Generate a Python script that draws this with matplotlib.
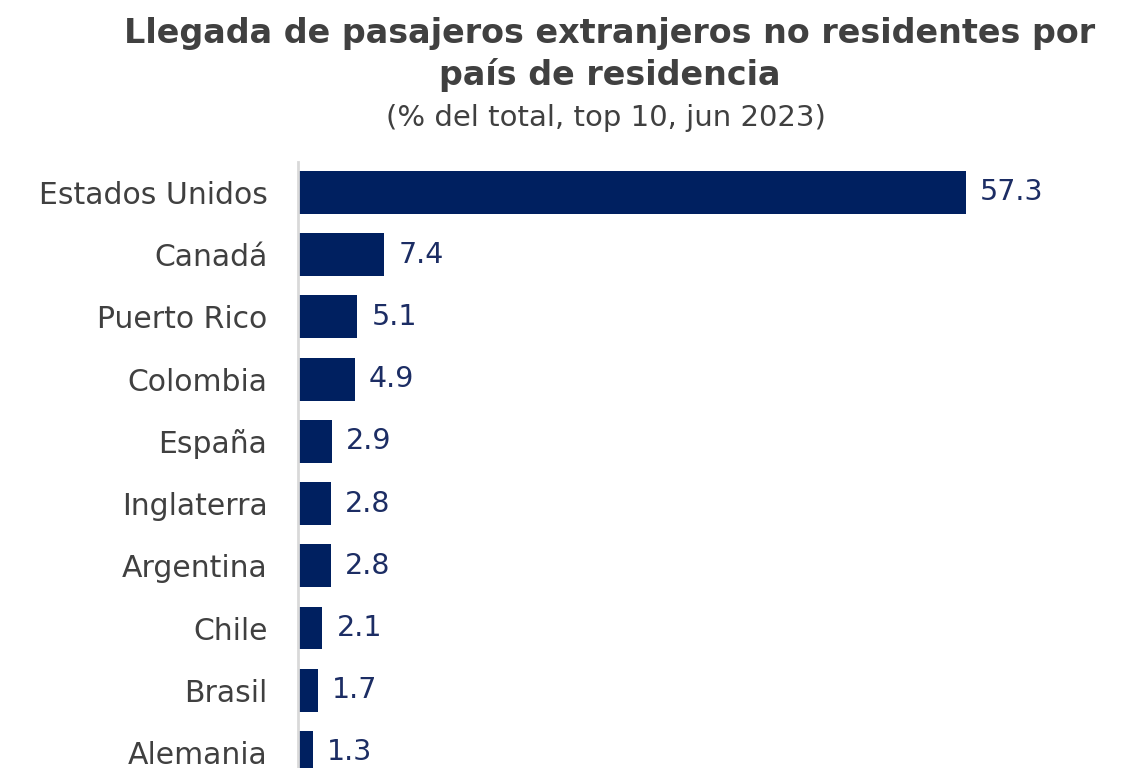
import matplotlib
matplotlib.use("Agg")
import matplotlib.pyplot as plt

# data
paises = ["Estados Unidos", "Canadá", "Puerto Rico", "Colombia", "España",
          "Inglaterra", "Argentina", "Chile", "Brasil", "Alemania"]
valores = [57.3, 7.4, 5.1, 4.9, 2.9, 2.8, 2.8, 2.1, 1.7, 1.3]

plt.rcParams["font.family"] = ["DejaVu Sans"]

fig = plt.figure(figsize=(11.37, 7.68), dpi=100)
ax = fig.add_axes([298 / 1137, 0, (1137 - 298) / 1137, (768 - 162) / 768])

pos = list(range(len(paises)))
ax.barh(pos, valores, height=0.69, color="#002060")
ax.set_xlim(0, 72)
ax.set_ylim(9.25, -0.49)

ax.set_yticks(pos)
ax.set_yticklabels(paises, fontsize=21.5, color="#404040")
ax.tick_params(axis="y", length=0, pad=22)
ax.set_xticks([])
for side in ["top", "right", "bottom"]:
    ax.spines[side].set_visible(False)
ax.spines["left"].set_color("#d9d9d9")
ax.spines["left"].set_linewidth(2)

# value labels
for y, v in zip(pos, valores):
    ax.text(v + 1.2, y, f"{v}", va="center", ha="left", fontsize=20.5, color="#1c2d64")

# titles
fig.text(0.536, 0.957, "Llegada de pasajeros extranjeros no residentes por",
         ha="center", va="center", fontsize=24, fontweight="bold", color="#404040")
fig.text(0.536, 0.902, "país de residencia",
         ha="center", va="center", fontsize=24, fontweight="bold", color="#404040")
fig.text(0.533, 0.847, "(% del total, top 10, jun 2023)",
         ha="center", va="center", fontsize=21, color="#404040")

fig.savefig("out.png", dpi=100)
